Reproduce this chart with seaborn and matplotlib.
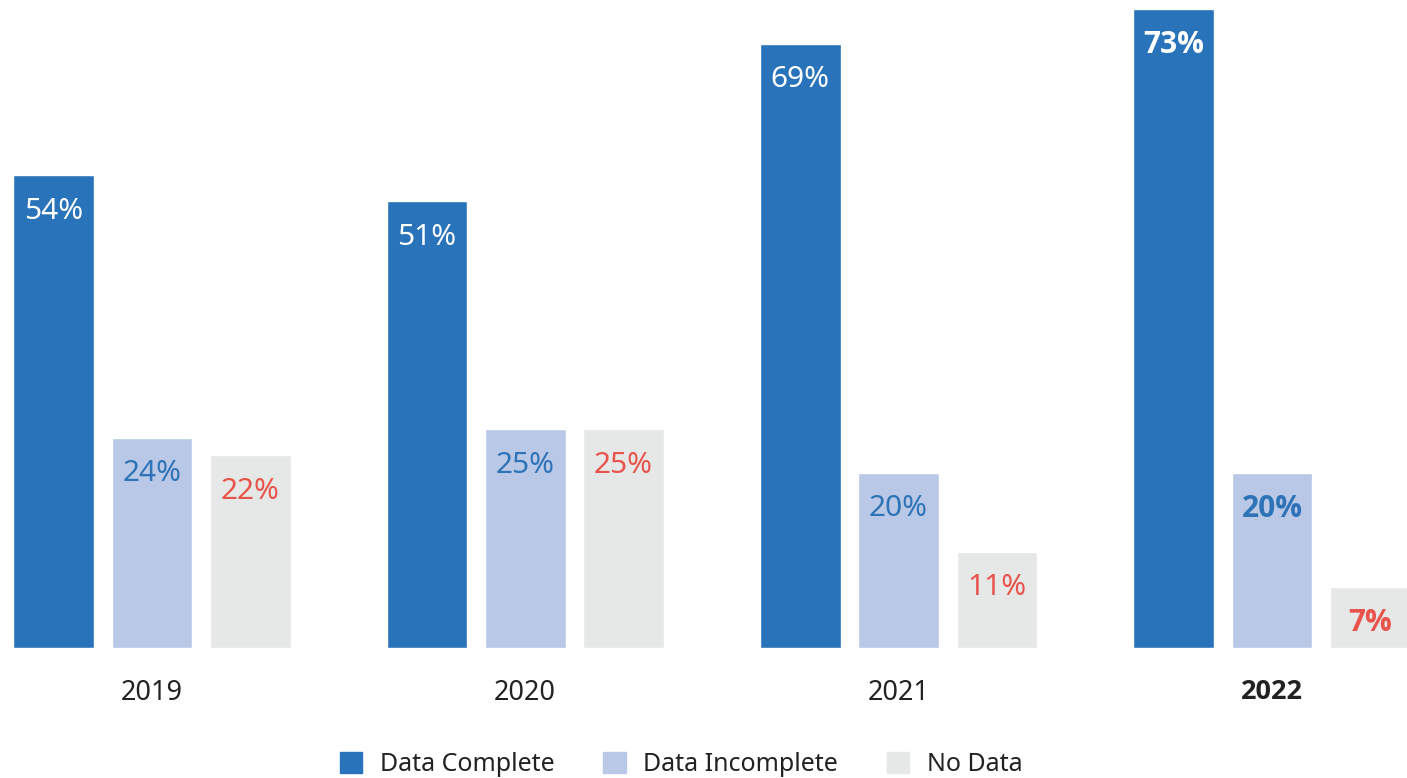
import numpy as np
import pandas as pd
import matplotlib.pyplot as plt
from matplotlib import font_manager
import seaborn as sns

years = ['2019', '2020', '2021', '2022']
statuses = ['Data Complete', 'Data Incomplete', 'No Data']
data_complete = [54, 51, 69, 73]
data_incomplete = [24, 25, 20, 20]
no_data = [22, 25, 11, 7]

palette = ['#2873b9', '#b8c8e6', '#e6e7e7']
label_colors = ['white', '#2f73b7', '#e8544c']

df = pd.DataFrame({
    'year': np.repeat(years, 3),
    'status': statuses * len(years),
    'pct': np.ravel(np.column_stack([data_complete, data_incomplete, no_data])),
})


def bold_family():
    # first family that really has a bold face installed
    for fam in ['Noto Sans', 'Open Sans', 'Lato', 'Roboto', 'Liberation Sans']:
        path = font_manager.findfont(font_manager.FontProperties(family=fam, weight='bold'),
                                     fallback_to_default=False)
        if 'bold' in path.lower():
            return fam
    return 'DejaVu Sans'


sns.set_theme(style="white")
plt.rcParams['font.family'] = ['Noto Sans', 'DejaVu Sans']
bfam = bold_family()

fig = plt.figure(figsize=(14.07, 7.78), dpi=100)
ax = fig.add_axes([0, 130 / 778, 1, 648 / 778])
sns.barplot(data=df, x='year', y='pct', hue='status', order=years,
            hue_order=statuses, palette=palette, width=0.79, gap=0.18,
            saturation=1, legend=False, ax=ax)

ax.set_xlim(-0.407, 3.362)
ax.set_ylim(0, 74)
ax.set_xlabel('')
ax.set_ylabel('')
ax.set_yticks([])
ax.tick_params(axis='x', length=0, pad=22, labelsize=19.5, colors='#222222')
for lab in ax.get_xticklabels():
    if lab.get_text() == '2022':
        lab.set_fontweight('bold')
        lab.set_family(bfam)
for s in ax.spines.values():
    s.set_visible(False)

for i, cont in enumerate(ax.containers):
    for j, bar in enumerate(cont):
        h = bar.get_height()
        bold = years[j] == '2022'
        ax.annotate(f'{h:.0f}%', (bar.get_x() + bar.get_width() / 2, h),
                    xytext=(0, -26), textcoords='offset points',
                    ha='center', va='center', fontsize=21.5,
                    color=label_colors[i],
                    family=bfam if bold else ['Noto Sans', 'DejaVu Sans'],
                    fontweight='bold' if bold else 'normal')

handles = [plt.Rectangle((0, 0), 1, 1, color=c) for c in palette]
fig.legend(handles, statuses, loc='lower center', bbox_to_anchor=(0.484, -0.028),
           ncol=3, frameon=False, fontsize=18, handlelength=0.9,
           handleheight=0.9, handletextpad=0.7, columnspacing=1.95,
           labelcolor='#222222')

plt.savefig('out.png', dpi=100)
